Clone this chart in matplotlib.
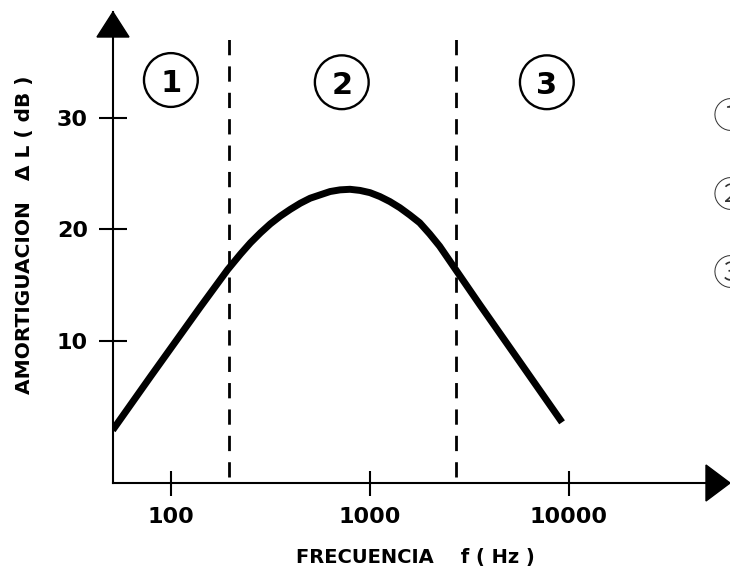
import matplotlib
matplotlib.use("Agg")
import matplotlib.pyplot as plt
from matplotlib.patches import Polygon
from matplotlib.ticker import NullLocator

# ---- data ----
freq_hz = [51, 79, 140, 193, 224, 251, 282, 316, 355, 398, 447, 501, 562, 631, 708, 794,
           891, 1000, 1122, 1259, 1413, 1585, 1778, 1995, 2239, 2512, 2818, 3162, 3548,
           5623, 9230]
atten_db = [2.0, 6.8, 13.0, 16.4, 17.8, 18.8, 19.7, 20.5, 21.2, 21.8, 22.35, 22.8, 23.1, 23.4,
            23.55, 23.6, 23.5, 23.3, 22.95, 22.5, 21.95, 21.3, 20.6, 19.6, 18.5, 17.2, 15.9,
            14.6, 13.3, 8.2, 2.7]
region_bounds_hz = [195, 2700]
region_labels = ["1", "2", "3"]
region_label_freq = [100, 722, 7740]
region_label_db = [33.4, 33.2, 33.2]
xtick_values = [100, 1000, 10000]
xtick_labels = ["100", "1000", "10000"]
ytick_values = [10, 20, 30]
ytick_labels = ["10", "20", "30"]
side_labels = ["\u2460", "\u2461", "\u2462"]

W, H = 730, 569
fig = plt.figure(figsize=(W / 100, H / 100), dpi=100)
L, R, T, B = 113, 730, 12, 483
ax = fig.add_axes([L / W, 1 - B / H, (R - L) / W, (B - T) / H])

ax.set_xscale("log")
ax.set_xlim(51.2, 64400)
ax.set_ylim(-2.74, 39.5)

for s in ["top", "right"]:
    ax.spines[s].set_visible(False)
for s in ["left", "bottom"]:
    ax.spines[s].set_linewidth(1.5)
    ax.spines[s].set_color("black")

# main curve
ax.plot(freq_hz, atten_db, color="black", lw=5, solid_capstyle="butt", solid_joinstyle="round")

# region separators
ax.vlines(region_bounds_hz, -2.2, 38.0, colors="black", linewidth=2.0,
          linestyles=(0, (5.5, 4.0)))

# circled region numbers
ax.scatter(region_label_freq, region_label_db, s=1500, facecolors="none",
           edgecolors="black", linewidths=1.7, zorder=3)
for f, d, t in zip(region_label_freq, region_label_db, region_labels):
    ax.text(f, d, t, ha="center", va="center_baseline", fontsize=22,
            fontweight="bold", family="DejaVu Sans")

# ticks
ax.set_xticks(xtick_values)
ax.set_xticklabels(xtick_labels)
ax.set_yticks(ytick_values)
ax.set_yticklabels(ytick_labels)
ax.xaxis.set_minor_locator(NullLocator())
ax.tick_params(axis="x", direction="inout", length=18, width=1.5, pad=8,
               labelsize=16)
ax.tick_params(axis="y", direction="inout", length=20, width=1.5, pad=8,
               labelsize=16)
for lab in ax.get_xticklabels() + ax.get_yticklabels():
    lab.set_fontweight("bold")

# axis labels
ax.set_xlabel("FRECUENCIA    f ( Hz )", fontsize=14, fontweight="bold", va="center")
ax.xaxis.set_label_coords((415 - L) / (R - L), (B - 557) / (B - T))
ax.set_ylabel("AMORTIGUACION   \u0394 L ( dB )", fontsize=14.5, fontweight="bold", va="center")
ax.yaxis.set_label_coords((25 - L) / (R - L), (B - 235) / (B - T))

# arrow heads (axes coordinates)
ya = Polygon([[0, 1], [-16 / (R - L), 1 - 25 / (B - T)], [16 / (R - L), 1 - 25 / (B - T)]],
             closed=True, transform=ax.transAxes, color="black", clip_on=False)
xa = Polygon([[1, 0], [1 - 24 / (R - L), 18 / (B - T)], [1 - 24 / (R - L), -18 / (B - T)]],
             closed=True, transform=ax.transAxes, color="black", clip_on=False)
ax.add_patch(ya)
ax.add_patch(xa)

# cut-off circled numbers at the right edge
for i, t in enumerate(side_labels):
    fig.text(713 / W, 1 - (118 + 78.5 * i) / H, t, ha="left", va="center",
             fontsize=26, color="#333333", family=["Noto Sans CJK JP", "DejaVu Sans"],
             fontweight="light")

fig.savefig("out.png", dpi=100)
